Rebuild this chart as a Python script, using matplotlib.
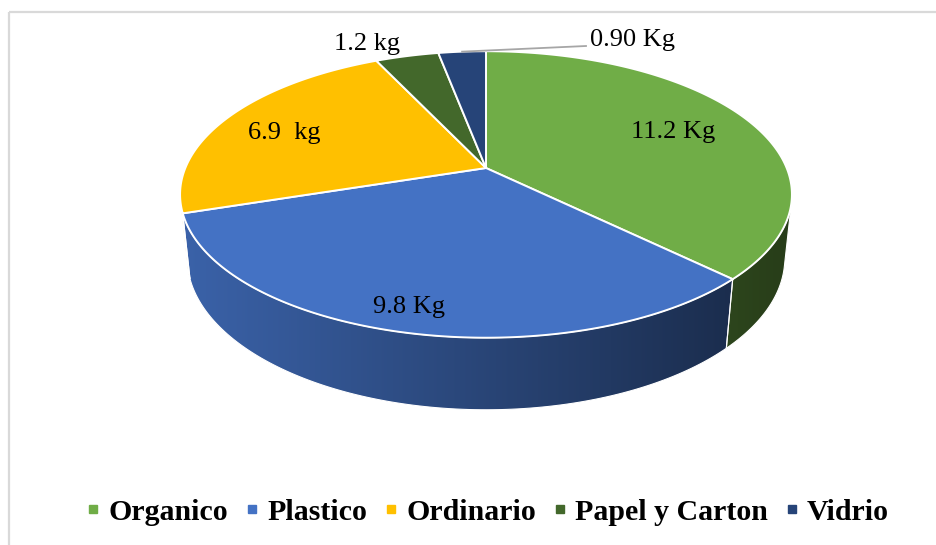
import numpy as np
import matplotlib
matplotlib.use("Agg")
import matplotlib.pyplot as plt
from matplotlib.patches import Polygon
from matplotlib.lines import Line2D

# waste collected per category (kg)
categories = ["Organico", "Plastico", "Ordinario", "Papel y Carton", "Vidrio"]
weights = [11.2, 9.8, 6.9, 1.2, 0.9]
value_labels = ["11.2 Kg", "9.8 Kg", "6.9  kg", "1.2 kg", "0.90 Kg"]
colors = ["#70AD47", "#4472C4", "#FFC000", "#43682B", "#264478"]

# label anchors in pixel space
label_pos = [(673, 132), (409, 307), (284, 133), (367, 44), (632, 40)]

W, H = 936, 545
cx, cy = 486, 168          # pie apex on the canvas
phi = np.radians(27.4)     # view elevation
dist = 4.806               # camera distance (disk radius = 1)
focal = 1445.0
thick = 0.241              # disk thickness

cphi, sphi = np.cos(phi), np.sin(phi)


def project(theta, r=1.0, z=0.0):
    # theta measured clockwise from the back of the disk
    u = r * np.sin(theta)
    v = r * np.cos(theta)
    d = dist + v * cphi - z * sphi
    sx = focal * u / d
    sy = focal * (v * sphi + z * cphi) / d
    return cx + sx, cy - sy


def to_rgb(hexcol):
    hexcol = hexcol.lstrip("#")
    return np.array([int(hexcol[i:i + 2], 16) for i in (0, 2, 4)]) / 255.0


fig = plt.figure(figsize=(W / 100, H / 100), dpi=100)
ax = fig.add_axes([0, 0, 1, 1])
ax.set_xlim(0, W)
ax.set_ylim(H, 0)
ax.axis("off")

# chart area frame
ax.plot([8.5, W], [11.5, 11.5], color="#D9D9D9", lw=1.6, solid_capstyle="butt")
ax.plot([8.5, 8.5], [11.5, H], color="#D9D9D9", lw=1.6, solid_capstyle="butt")

total = sum(weights)
bounds = np.concatenate([[0], np.cumsum(weights)]) / total * 2 * np.pi

# outer wall is only seen where it faces the camera
vis_lo = np.arccos(-1 / (dist * cphi))
vis_hi = 2 * np.pi - vis_lo


def shade(x):
    return np.clip(0.86 - (x - 183) / 547 * 0.46, 0.35, 0.9)


for i, col in enumerate(colors):
    a0 = max(bounds[i], vis_lo)
    a1 = min(bounds[i + 1], vis_hi)
    if a1 <= a0:
        continue
    t = np.linspace(a0, a1, 120)
    xt, yt = project(t)
    xb, yb = project(t[::-1], z=-thick)
    pts = np.column_stack([np.concatenate([xt, xb]), np.concatenate([yt, yb])])
    wall = Polygon(pts, closed=True, facecolor="none", edgecolor="white", lw=0.8, zorder=3)
    ax.add_patch(wall)
    x0, x1 = pts[:, 0].min() - 1, pts[:, 0].max() + 1
    y0, y1 = pts[:, 1].min() - 1, pts[:, 1].max() + 1
    xs = np.linspace(x0, x1, 200)
    grad = to_rgb(col)[None, None, :] * shade(xs)[None, :, None]
    grad = np.repeat(grad, 2, axis=0)
    im = ax.imshow(grad, extent=[x0, x1, y1, y0], aspect="auto",
                   interpolation="bilinear", zorder=2)
    im.set_clip_path(wall)

# top faces
for i, col in enumerate(colors):
    t = np.linspace(bounds[i], bounds[i + 1], 200)
    xt, yt = project(t)
    pts = np.column_stack([np.concatenate([[cx], xt]), np.concatenate([[cy], yt])])
    ax.add_patch(Polygon(pts, closed=True, facecolor=col, edgecolor="white",
                         lw=1.4, joinstyle="round", zorder=4))

# value labels
for i, txt in enumerate(value_labels):
    x, y = label_pos[i]
    ax.text(x, y, txt, ha="center", va="center", fontsize=19,
            family="Liberation Serif", color="black", zorder=6)

# leader line for the smallest slice
mid = (bounds[4] + bounds[5]) / 2
lx, ly = project(mid)
ax.plot([lx, 586], [ly, 46], color="#A6A6A6", lw=1.3, zorder=5)

handles = [Line2D([], [], marker="s", ls="", color=c, markersize=6) for c in colors]
fig.legend(handles, categories, loc="center", bbox_to_anchor=(489 / W, 1 - 512 / H),
           ncol=5, frameon=False, handlelength=0.3, handletextpad=0.35,
           columnspacing=0.66, prop={"family": "Liberation Serif", "weight": "bold", "size": 21.5})

fig.savefig("out.png", dpi=100)
